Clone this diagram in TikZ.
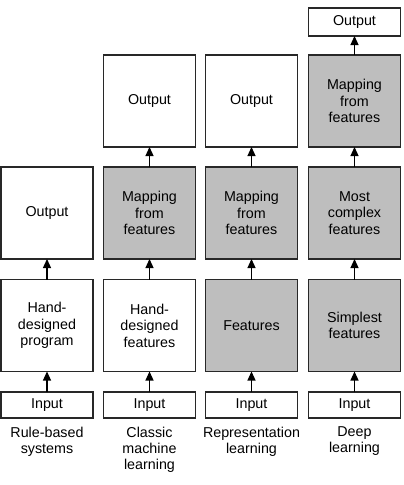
\documentclass[tikz,border=0pt]{standalone}
\usepackage{fontspec}
\setmainfont{Liberation Sans}
\usetikzlibrary{arrows.meta}
\definecolor{boxgray}{RGB}{190,190,190}
\definecolor{linegray}{RGB}{40,40,40}
\tikzset{
  box/.style={draw=linegray, line width=1.2pt, fill=white, minimum width=92pt, inner sep=0pt, outer sep=0pt, align=center, font=\fontsize{14.3}{16.6}\selectfont},
  bigbox/.style={box, minimum height=92pt},
  smallbox/.style={box, minimum height=26pt},
  shaded/.style={fill=boxgray},
  arr/.style={draw=black, line width=1.2pt, -{Triangle[length=9pt,width=8pt]}},
  lab/.style={align=center, anchor=north, inner sep=0pt, font=\fontsize{14.3}{16.2}\selectfont}
}
\begin{document}
\begin{tikzpicture}[x=1pt,y=-1pt]
\useasboundingbox (0,0) rectangle (404,485);
% column 1
\node[smallbox] (in1) at (47,405) {Input};
\node[bigbox] (d1) at (47,325.5) {Hand-\\designed\\program};
\node[bigbox] (c1) at (47,213) {Output};
\node[lab] (l1) at (47,426.5) {Rule-based\\systems};
% column 2
\node[smallbox] (in2) at (149.5,405) {Input};
\node[bigbox] (d2) at (149.5,325.5) {Hand-\\designed\\features};
\node[bigbox,shaded] (c2) at (149.5,213) {Mapping\\from\\features};
\node[bigbox] (b2) at (149.5,101) {Output};
\node[lab] (l2) at (149.5,426.5) {Classic\\machine\\learning};
% column 3
\node[smallbox] (in3) at (251.5,405) {Input};
\node[bigbox,shaded] (d3) at (251.5,325.5) {Features};
\node[bigbox,shaded] (c3) at (251.5,213) {Mapping\\from\\features};
\node[bigbox] (b3) at (251.5,101) {Output};
\node[lab] (l3) at (251.5,426.5) {Representation\\learning};
% column 4
\node[smallbox] (in4) at (354.5,405) {Input};
\node[bigbox,shaded] (d4) at (354.5,325.5) {Simplest\\features};
\node[bigbox,shaded] (c4) at (354.5,213) {Most\\complex\\features};
\node[bigbox,shaded] (b4) at (354.5,101) {Mapping\\from\\features};
\node[box, minimum height=28pt] (a4) at (354.5,22) {Output};
\node[lab] (l4) at (354.5,426.5) {Deep\\learning};
% arrows
\draw[arr] (in1.north) -- (d1.south);
\draw[arr] (d1.north) -- (c1.south);
\draw[arr] (in2.north) -- (d2.south);
\draw[arr] (d2.north) -- (c2.south);
\draw[arr] (c2.north) -- (b2.south);
\draw[arr] (in3.north) -- (d3.south);
\draw[arr] (d3.north) -- (c3.south);
\draw[arr] (c3.north) -- (b3.south);
\draw[arr] (in4.north) -- (d4.south);
\draw[arr] (d4.north) -- (c4.south);
\draw[arr] (c4.north) -- (b4.south);
\draw[arr] (b4.north) -- (a4.south);
\end{tikzpicture}
\end{document}
